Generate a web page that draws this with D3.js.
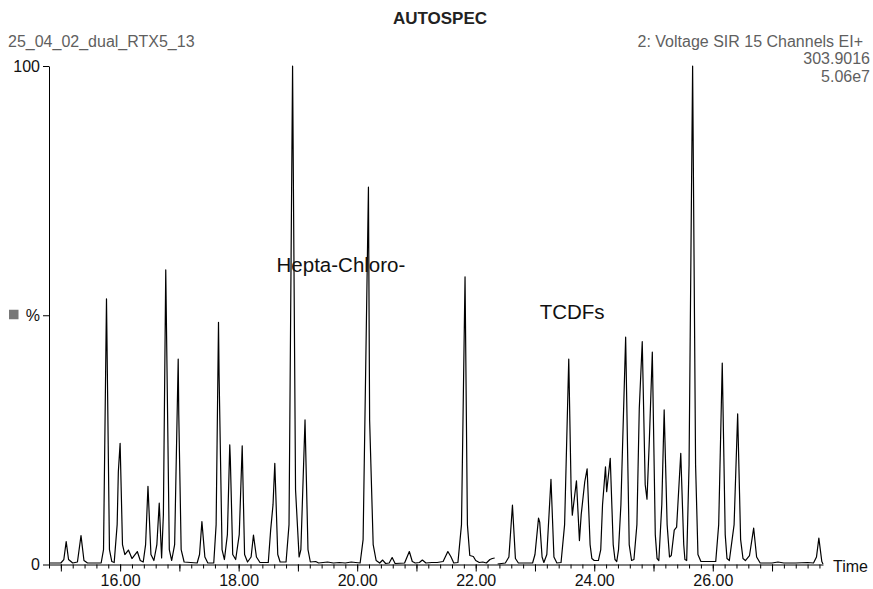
<!DOCTYPE html>
<html>
<head>
<meta charset="utf-8">
<script src="https://cdn.jsdelivr.net/npm/d3@7"></script>
<style>
  body { margin: 0; background: #fff; }
  svg { font-family: "Liberation Sans", Arial, sans-serif; display: block; }
</style>
</head>
<body>
<div id="chart"></div>
<script>
// Chromatogram trace: [time (min), intensity (%)]
// null marks the small break in the trace after 22.3 min
const trace = [
  [14.80, 0.3], [15.00, 0.3], [15.05, 1.0], [15.09, 4.6], [15.13, 1.0], [15.20, 0.3],
  [15.28, 0.5], [15.34, 5.8], [15.39, 0.8], [15.45, 0.3], [15.68, 0.3], [15.72, 3],
  [15.77, 53.3], [15.82, 3], [15.86, 0.6], [15.90, 0.4], [15.95, 8], [15.97, 18.6],
  [16.00, 24.3], [16.04, 4], [16.08, 2.0], [16.14, 2.9], [16.20, 1.2], [16.29, 2.6],
  [16.34, 0.8], [16.39, 0.5], [16.43, 4], [16.47, 15.7], [16.52, 2], [16.57, 0.8],
  [16.62, 4], [16.66, 12.3], [16.70, 1.3], [16.73, 10], [16.77, 59.1], [16.83, 3],
  [16.87, 0.8], [16.92, 4], [16.98, 41.2], [16.99, 30], [17.03, 3], [17.08, 0.5],
  [17.30, 0.3], [17.34, 2], [17.38, 8.6], [17.43, 1.5], [17.48, 0.3], [17.58, 0.3],
  [17.62, 8], [17.66, 48.6], [17.67, 38], [17.72, 3], [17.76, 1], [17.81, 6],
  [17.85, 24.0], [17.86, 21], [17.90, 2], [17.95, 1], [18.01, 6], [18.06, 23.8],
  [18.10, 2], [18.15, 0.5], [18.21, 1.5], [18.25, 5.9], [18.30, 1.5], [18.36, 0.4],
  [18.50, 0.4], [18.54, 6.9], [18.58, 12], [18.61, 20.3], [18.66, 2], [18.70, 0.5],
  [18.80, 0.5], [18.85, 8], [18.91, 100], [18.96, 15], [19.02, 1.5], [19.05, 3],
  [19.12, 29], [19.17, 3], [19.21, 0.5], [19.30, 0.6], [19.35, 0.3], [19.50, 0.5],
  [19.60, 0.3], [19.70, 0.4], [19.80, 0.3], [19.90, 0.5], [20.05, 0.3], [20.10, 5],
  [20.19, 75.7], [20.21, 29], [20.27, 4], [20.32, 0.8], [20.38, 0.3], [20.43, 0.9],
  [20.48, 0.2], [20.54, 0.3], [20.59, 1.4], [20.64, 0.2], [20.80, 0.3], [20.88, 2.6],
  [20.93, 0.6], [20.98, 0.3], [21.05, 0.4], [21.10, 0.9], [21.16, 0.3], [21.26, 0.4],
  [21.35, 0.4], [21.45, 0.6], [21.53, 2.6], [21.58, 1.6], [21.63, 0.3], [21.70, 0.4],
  [21.76, 8], [21.82, 57.7], [21.86, 8], [21.90, 1.8], [21.96, 1.6], [22.00, 0.8],
  [22.06, 0.4], [22.12, 0.5], [22.18, 0.3], [22.24, 1.0], [22.28, 1.2], [22.32, 1.3],
  null,
  [22.37, 0.1], [22.50, 0.3], [22.56, 1.5], [22.62, 11.9], [22.67, 1.2], [22.72, 0.3],
  [22.96, 0.3], [23.00, 2], [23.06, 9.3], [23.08, 8.5], [23.12, 1.5], [23.15, 0.4],
  [23.20, 2], [23.27, 17.1], [23.32, 1.5], [23.37, 0.3], [23.44, 0.4], [23.50, 8],
  [23.57, 41.2], [23.61, 15], [23.63, 9.9], [23.70, 16.8], [23.75, 4.8], [23.78, 10],
  [23.84, 16.6], [23.88, 19.2], [23.93, 4], [23.96, 1.2], [24.00, 0.8], [24.07, 0.8],
  [24.11, 3], [24.14, 12], [24.19, 19.6], [24.21, 14.6], [24.27, 21.3], [24.32, 4],
  [24.35, 1.0], [24.38, 0.6], [24.41, 3], [24.45, 12], [24.53, 45.6], [24.59, 4],
  [24.63, 0.8], [24.67, 1.0], [24.72, 8], [24.76, 31.3], [24.81, 44.7], [24.86, 16],
  [24.89, 13.1], [24.93, 25], [24.98, 42.6], [25.03, 6], [25.06, 1.2], [25.09, 0.8],
  [25.14, 12], [25.18, 31], [25.23, 8], [25.27, 1.5], [25.30, 1.8], [25.35, 6.9],
  [25.39, 7.5], [25.46, 22.3], [25.51, 4], [25.53, 1], [25.56, 0.8], [25.60, 20],
  [25.66, 100], [25.71, 20], [25.75, 2], [25.80, 0.6], [26.05, 0.6], [26.10, 8],
  [26.16, 40.4], [26.21, 6], [26.24, 1.2], [26.28, 0.8], [26.36, 8], [26.42, 30.2],
  [26.47, 5], [26.51, 1.2], [26.55, 0.8], [26.62, 1.8], [26.69, 7.3], [26.74, 1.5],
  [26.80, 0.3], [27.00, 0.3], [27.10, 0.5], [27.20, 0.3], [27.40, 0.3], [27.60, 0.4],
  [27.70, 0.3], [27.75, 1.5], [27.79, 5.3], [27.84, 0.6], [27.86, 0.1]
];

const timeRange = [14.8, 27.86];
const minuteTicks = [15, 16, 17, 18, 19, 20, 21, 22, 23, 24, 25, 26, 27];
const labelTicks = [16, 18, 20, 22, 24, 26];
const yTicks = [0, 50, 100];
const yTickLabels = { 0: "0", 50: "%", 100: "100" };

const title = "AUTOSPEC";
const sampleName = "25_04_02_dual_RTX5_13";
const headerRight = ["2: Voltage SIR 15 Channels EI+", "303.9016", "5.06e7"];
const annotations = [
  { text: "Hepta-Chloro-", t: 18.64, v: 58.7 },
  { text: "TCDFs", t: 23.08, v: 49.2 }
];

const W = 873, H = 589;
const margin = { top: 66, right: 50, bottom: 24.5, left: 49 };

const svg = d3.select("#chart").append("svg")
  .attr("width", W)
  .attr("height", H);

const x = d3.scaleLinear().domain(timeRange).range([margin.left, W - margin.right]);
const y = d3.scaleLinear().domain([0, 100]).range([H - margin.bottom, margin.top]);

// header texts
svg.append("text")
  .attr("x", 440).attr("y", 24)
  .attr("text-anchor", "middle")
  .style("font-size", "17px").style("font-weight", "bold").style("fill", "#222")
  .text(title);

svg.append("text")
  .attr("x", 8).attr("y", 46.5)
  .style("font-size", "16px").style("fill", "#5f5f5f")
  .text(sampleName);

svg.selectAll(".hdr")
  .data(headerRight)
  .enter().append("text")
  .attr("class", "hdr")
  .attr("x", (d, i) => i === 0 ? 863 : 870)
  .attr("y", (d, i) => 46.5 + i * 17.8)
  .attr("text-anchor", "end")
  .style("font-size", "16px").style("fill", "#5f5f5f")
  .text(d => d);

// x axis: minor ticks every 0.2 min, longer ticks each minute
const minorTicks = d3.range(Math.round(timeRange[0] * 5), Math.floor(timeRange[1] * 5) + 1).map(d => d / 5);
const xg = svg.append("g").attr("transform", `translate(0,${y(0)})`);
xg.call(d3.axisBottom(x).tickValues(minorTicks).tickSize(4).tickSizeOuter(0).tickFormat(""));
xg.append("g").call(d3.axisBottom(x).tickValues(minuteTicks).tickSize(7).tickSizeOuter(0)
  .tickFormat(d => labelTicks.includes(d) ? d.toFixed(2) : ""))
  .select(".domain").remove();
xg.selectAll("text").style("font-size", "16px").style("font-family", "Liberation Sans, Arial, sans-serif")
  .attr("fill", "#111").attr("dy", "0.71em").attr("y", 10.5);
xg.selectAll("line, path").attr("stroke", "#000");

svg.append("text")
  .attr("x", 833).attr("y", 571.5)
  .style("font-size", "16px").style("fill", "#111")
  .text("Time");

// y axis
const yg = svg.append("g").attr("transform", `translate(${x(timeRange[0])},0)`);
yg.call(d3.axisLeft(y).tickValues(yTicks).tickSize(6).tickSizeOuter(0).tickFormat(d => yTickLabels[d]));
yg.selectAll("text").style("font-size", "16px").style("font-family", "Liberation Sans, Arial, sans-serif")
  .attr("fill", "#111").attr("x", -9);
yg.selectAll("line, path").attr("stroke", "#000");

svg.append("rect")
  .attr("x", 9).attr("y", y(50) - 5.5)
  .attr("width", 9.5).attr("height", 9.5)
  .attr("fill", "#777");

// trace
const line = d3.line()
  .defined(d => d !== null)
  .x(d => x(d[0]))
  .y(d => y(d[1]));

svg.append("path")
  .datum(trace)
  .attr("d", line)
  .attr("fill", "none")
  .attr("stroke", "#000")
  .attr("stroke-width", 1.2)
  .attr("stroke-linejoin", "round");

// peak group labels
svg.selectAll(".ann")
  .data(annotations)
  .enter().append("text")
  .attr("class", "ann")
  .attr("x", d => x(d.t))
  .attr("y", d => y(d.v))
  .style("font-size", "20.5px").style("fill", "#111")
  .text(d => d.text);
</script>
</body>
</html>
